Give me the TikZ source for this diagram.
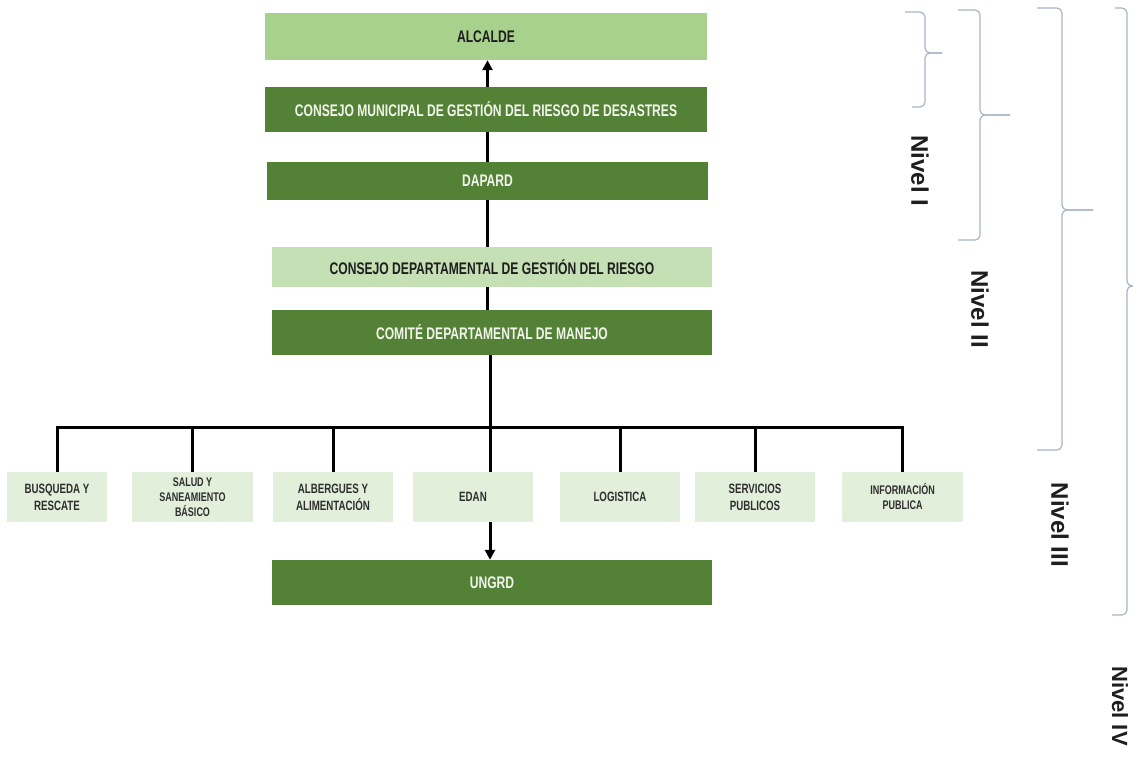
\documentclass[tikz,border=0pt]{standalone}
\usepackage{fontspec}
\setmainfont{Liberation Sans}
\newfontfamily\narrowfont[FakeStretch=0.72]{Liberation Sans}
\usetikzlibrary{arrows.meta}
\definecolor{darkgreen}{HTML}{538135}
\definecolor{midgreen}{HTML}{A9D18E}
\definecolor{lightgreen}{HTML}{C5E0B4}
\definecolor{palegreen}{HTML}{E2EFDA}
\definecolor{bracecol}{HTML}{A8B6C6}
\definecolor{darktext}{HTML}{1E1E1E}
\definecolor{boxtext}{HTML}{2E2E2E}
\definecolor{lighttext}{HTML}{F2F4EC}
\begin{document}
\begin{tikzpicture}[x=1pt,y=-1pt,
  box/.style={rectangle, inner sep=0pt, align=center,
    font=\narrowfont\bfseries\fontsize{16.8}{19}\selectfont},
  darkbox/.style={box, fill=darkgreen, text=lighttext},
  midbox/.style={box, fill=midgreen, text=darktext},
  lightbox/.style={box, fill=lightgreen, text=darktext},
  areabox/.style={rectangle, inner sep=0pt, align=center, fill=palegreen,
    text=boxtext, minimum width=120pt, minimum height=50pt,
    font=\narrowfont\bfseries\fontsize{13.5}{17}\selectfont},
  smallarea/.style={areabox, font=\narrowfont\bfseries\fontsize{12.5}{15}\selectfont},
  link/.style={line width=3pt, draw=black},
  arrowlink/.style={link, -{Triangle[length=10pt,width=10pt]}},
  bracepath/.style={draw=bracecol, line width=1.2pt, rounded corners=5pt},
  nivel/.style={rotate=-90, inner sep=0pt, text=darktext,
    font=\bfseries\fontsize{24}{28}\selectfont}
]
\useasboundingbox (0,0) rectangle (1133,756);
\fill[white] (0,0) rectangle (1133,756);

% top column
\node[midbox,  minimum width=442pt, minimum height=47pt] (alcalde) at (486,36.5) {ALCALDE};
\node[darkbox, minimum width=442pt, minimum height=45pt] (cmgrd) at (486,109.5) {CONSEJO MUNICIPAL DE GESTIÓN DEL RIESGO DE DESASTRES};
\node[darkbox, minimum width=441pt, minimum height=38pt] (dapard) at (487.5,181) {DAPARD};
\node[lightbox, minimum width=440pt, minimum height=40pt] (cdgr) at (492,267) {CONSEJO DEPARTAMENTAL DE GESTIÓN DEL RIESGO};
\node[darkbox, minimum width=440pt, minimum height=45pt] (cdm) at (492,332.5) {COMITÉ DEPARTAMENTAL DE MANEJO};
\node[darkbox, minimum width=440pt, minimum height=45pt] (ungrd) at (492,582.5) {UNGRD};

% bottom row
\node[areabox, minimum width=100pt] (b1) at (57,497) {BUSQUEDA Y\\RESCATE};
\node[smallarea, minimum width=121pt] (b2) at (192.5,497) {SALUD Y\\SANEAMIENTO\\BÁSICO};
\node[areabox] (b3) at (333,497) {ALBERGUES Y\\ALIMENTACIÓN};
\node[areabox] (b4) at (473,497) {EDAN};
\node[areabox] (b5) at (620,497) {LOGISTICA};
\node[areabox] (b6) at (755,497) {SERVICIOS\\PUBLICOS};
\node[smallarea, minimum width=121pt] (b7) at (902.5,497) {INFORMACIÓN\\PUBLICA};

% helper coordinates
\coordinate (tx) at (487.5,0);
\coordinate (tb) at (490,0);
\coordinate (bar) at (0,427);

% connectors
\draw[arrowlink] (cmgrd.north -| tx) -- (alcalde.south -| tx);
\draw[link] (cmgrd.south -| tx) -- (dapard.north -| tx);
\draw[link] (dapard.south -| tx) -- (cdgr.north -| tx);
\draw[link] (cdgr.south -| tx) -- (cdm.north -| tx);
\draw[link] (cdm.south -| tb) -- (b4.north -| tb);
\draw[link, line join=miter] (b1.north) -- (b1.north |- bar) -- (b7.north |- bar) -- (b7.north);
\draw[link] (b2.north |- bar) -- (b2.north);
\draw[link] (b3.north |- bar) -- (b3.north);
\draw[link] (b5.north |- bar) -- (b5.north);
\draw[link] (b6.north |- bar) -- (b6.north);
\draw[arrowlink] (b4.south -| tb) -- (ungrd.north -| tb);

% braces
\draw[bracepath] (905,12) -- (925,12) -- (925,53) -- (942,53);
\draw[bracepath] (942,53) -- (925,53) -- (925,107) -- (912,107);
\draw[bracepath] (958,10) -- (980,10) -- (980,115) -- (1010,115);
\draw[bracepath] (1010,115) -- (980,115) -- (980,240) -- (958,240);
\draw[bracepath] (1037,8) -- (1062,8) -- (1062,210) -- (1093,210);
\draw[bracepath] (1093,210) -- (1062,210) -- (1062,450) -- (1037,450);
\draw[bracepath] (1115,8) -- (1127,8) -- (1127,286) -- (1145,286);
\draw[bracepath] (1145,286) -- (1127,286) -- (1127,615) -- (1112,615);

% level labels
\node[nivel] (n1) at (920,171) {Nivel I};
\node[nivel] (n2) at (980,309) {Nivel II};
\node[nivel] (n3) at (1060,525) {Nivel III};
\node[nivel, font=\bfseries\fontsize{22}{26}\selectfont] (n4) at (1120,706) {Nivel IV};
\end{tikzpicture}
\end{document}
